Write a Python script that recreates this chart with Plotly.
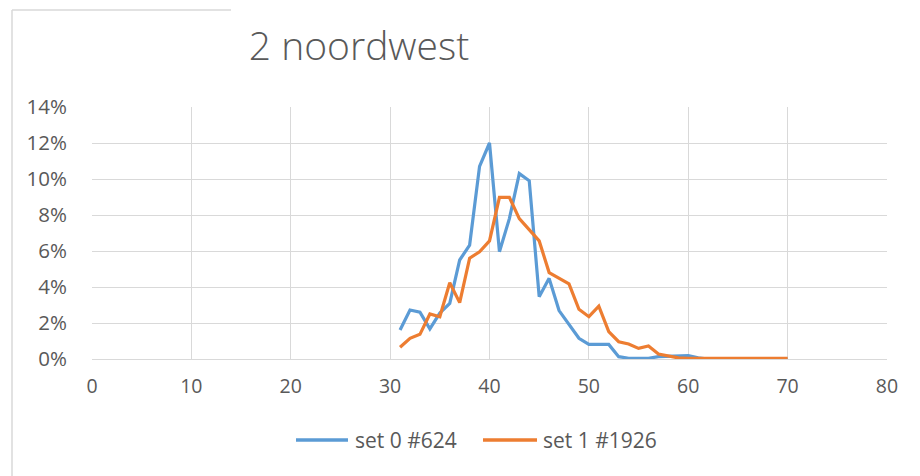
import plotly.graph_objects as go

x_vals = list(range(31, 71))
set0 = [1.61, 2.72, 2.60, 1.67, 2.55, 3.09, 5.50, 6.33, 10.7, 12.0,
        5.96, 7.80, 10.3, 9.90, 3.46, 4.48, 2.69, 1.89, 1.15, 0.81,
        0.81, 0.81, 0.13, 0.04, 0.04, 0.04, 0.13, 0.15, 0.19, 0.19,
        0.07, 0.0, 0.0, 0.0, 0.0, 0.0, 0.0, 0.0, 0.0, 0.0]
set1 = [0.65, 1.15, 1.37, 2.50, 2.35, 4.24, 3.13, 5.60, 5.96, 6.56,
        8.98, 8.98, 7.80, 7.17, 6.56, 4.80, 4.48, 4.17, 2.76, 2.35,
        2.94, 1.52, 0.96, 0.83, 0.59, 0.72, 0.28, 0.15, 0.06, 0.04,
        0.04, 0.04, 0.04, 0.04, 0.04, 0.04, 0.04, 0.04, 0.04, 0.04]
names = ["set 0 #624", "set 1 #1926"]
colors = ["#5B9BD5", "#ED7D31"]
x_ticks = [0, 10, 20, 30, 40, 50, 60, 70, 80]
y_ticks = [0, 2, 4, 6, 8, 10, 12, 14]

fig = go.Figure()
for ys, nm, c in zip([set0, set1], names, colors):
    fig.add_trace(go.Scatter(x=x_vals, y=[v / 100 for v in ys], mode="lines", name=nm,
                             line=dict(color=c, width=3.2), showlegend=False))

W, H = 920, 476
L, R, T, B = 92, 887, 107, 359
fig.update_layout(
    width=W, height=H,
    margin=dict(l=L, r=W - R, t=T, b=H - B),
    paper_bgcolor="white", plot_bgcolor="white",
    font=dict(family="Open Sans, Noto Sans, sans-serif", color="#595959", size=19),
    title=dict(text="2 noordwest", x=359 / W, xanchor="center", xref="container",
               y=1 - 46 / H, yanchor="middle", yref="container",
               font=dict(size=39, color="#595959", family="Open Sans, sans-serif", weight=300)),
    showlegend=False,
    xaxis=dict(range=[0, 80], tickvals=x_ticks, showgrid=True, gridcolor="#D9D9D9",
               gridwidth=1, zeroline=False, showline=False, ticks="", ticklabelstandoff=13,
               tickfont=dict(size=19.5)),
    yaxis=dict(range=[0, 0.14], tickvals=[v / 100 for v in y_ticks],
               ticktext=[f"{v}%" for v in y_ticks], showgrid=True, gridcolor="#D9D9D9",
               gridwidth=1, zeroline=True, zerolinecolor="#D9D9D9", zerolinewidth=1,
               showline=False, ticks="", ticklabelstandoff=24, tickfont=dict(size=20.5)),
)

def px_x(p):
    return (p - L) / (R - L)

def px_y(p):
    return (B - p) / (B - T)

# chart frame (left and top border pieces)
fig.add_shape(type="line", xref="paper", yref="paper", x0=px_x(12), x1=px_x(12),
              y0=px_y(10), y1=px_y(476), line=dict(color="#D9D9D9", width=1.5))
fig.add_shape(type="line", xref="paper", yref="paper", x0=px_x(12), x1=px_x(231),
              y0=px_y(10), y1=px_y(10), line=dict(color="#D9D9D9", width=1.5))

# legend drawn manually
legend_pos = [(296, 348, 353), (483, 537, 541)]
for (x0, x1, xt), nm, c in zip(legend_pos, names, colors):
    fig.add_shape(type="line", xref="paper", yref="paper", x0=px_x(x0), x1=px_x(x1),
                  y0=px_y(440), y1=px_y(440), line=dict(color=c, width=3.5))
    fig.add_annotation(xref="paper", yref="paper", x=px_x(xt), y=px_y(440), text=nm,
                       showarrow=False, xanchor="left", yanchor="middle",
                       font=dict(size=21, color="#595959"))

fig.write_html("out.html", config={"displayModeBar": False},
               post_script="document.body.style.margin='0px';")
